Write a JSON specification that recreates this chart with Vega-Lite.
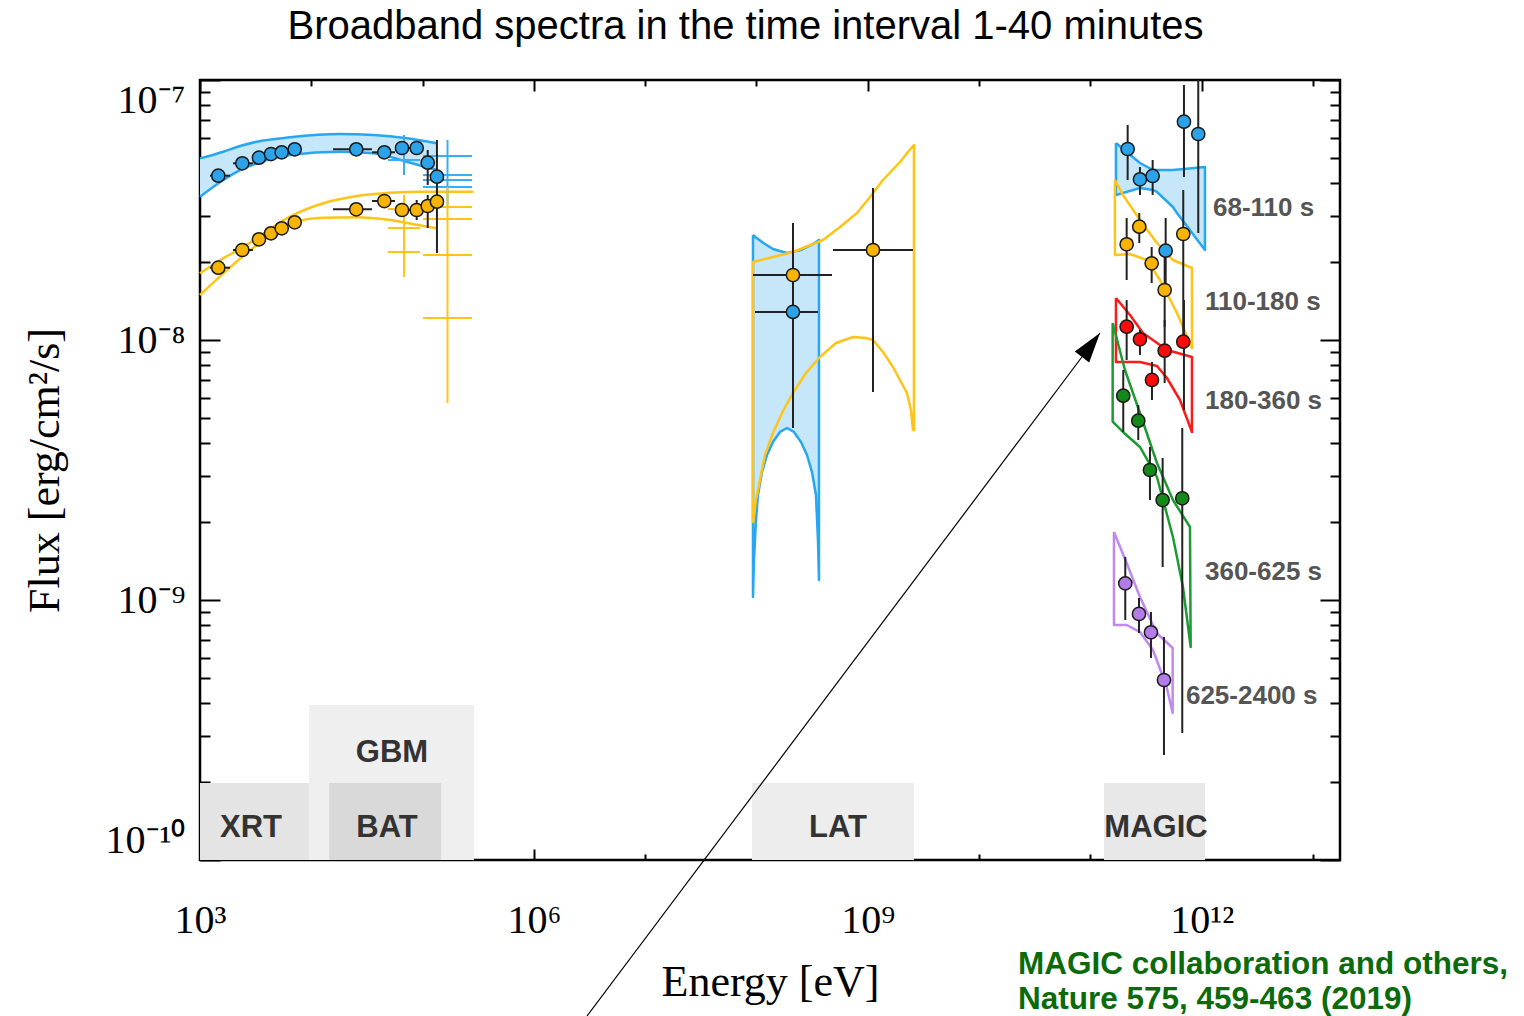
{
"$schema": "https://vega.github.io/schema/vega-lite/v6.json",
"width": 1140, "height": 780,
"autosize": "none",
"padding": {"left": 200, "top": 80, "right": 184, "bottom": 156},
"background": "white",
"config": {"view": {"stroke": "#000", "strokeWidth": 2.5}},
"datasets": {
"boxes": [
{"inst":"GBM","e1":9535,"e2":289600,"f1":1e-10,"f2":3.947e-10},
{"inst":"XRT","e1":1000,"e2":9535,"f1":1e-10,"f2":1.978e-10},
{"inst":"BAT","e1":14420,"e2":146300,"f1":1e-10,"f2":1.978e-10},
{"inst":"LAT","e1":9.112e7,"e2":2.6e9,"f1":1e-10,"f2":1.978e-10},
{"inst":"MAGIC","e1":1.325e11,"e2":1.071e12,"f1":1e-10,"f2":1.978e-10}],
"boxlabels": [
{"inst":"XRT","e":2872,"f":1.328e-10},{"inst":"GBM","e":53090,"f":2.579e-10},{"inst":"BAT","e":47870,"f":1.328e-10},{"inst":"LAT","e":5.398e8,"f":1.328e-10},{"inst":"MAGIC","e":3.886e11,"f":1.328e-10}],
"bands": [
{"band":"xg","e":1000,"lo":3.558e-8,"hi":4.997e-8},{"band":"xg","e":1619,"lo":4.125e-8,"hi":5.3e-8},{"band":"xg","e":2288,"lo":4.506e-8,"hi":5.575e-8},{"band":"xg","e":3232,"lo":4.782e-8,"hi":5.79e-8},{"band":"xg","e":6436,"lo":5.146e-8,"hi":6.02e-8},{"band":"xg","e":18110,"lo":5.3e-8,"hi":6.199e-8},{"band":"xg","e":36060,"lo":5.225e-8,"hi":6.143e-8},{"band":"xg","e":71960,"lo":4.851e-8,"hi":5.968e-8},{"band":"xg","e":133900,"lo":4.506e-8,"hi":5.708e-8},
{"band":"lat","e":9.303e7,"lo":1.027e-9,"hi":2.534e-8},{"band":"lat","e":9.495e7,"lo":1.424e-9,"hi":2.512e-8},{"band":"lat","e":9.897e7,"lo":2.031e-9,"hi":2.479e-8},{"band":"lat","e":1.031e8,"lo":2.534e-9,"hi":2.446e-8},{"band":"lat","e":1.121e8,"lo":3.106e-9,"hi":2.382e-8},{"band":"lat","e":1.243e8,"lo":3.612e-9,"hi":2.298e-8},{"band":"lat","e":1.406e8,"lo":4.053e-9,"hi":2.239e-8},{"band":"lat","e":1.626e8,"lo":4.429e-9,"hi":2.19e-8},{"band":"lat","e":1.879e8,"lo":4.586e-9,"hi":2.161e-8},{"band":"lat","e":2.173e8,"lo":4.429e-9,"hi":2.18e-8},{"band":"lat","e":2.511e8,"lo":4.053e-9,"hi":2.219e-8},{"band":"lat","e":2.843e8,"lo":3.612e-9,"hi":2.278e-8},{"band":"lat","e":3.153e8,"lo":3.106e-9,"hi":2.329e-8},{"band":"lat","e":3.424e8,"lo":2.534e-9,"hi":2.382e-8},{"band":"lat","e":3.569e8,"lo":1.701e-9,"hi":2.404e-8},{"band":"lat","e":3.644e8,"lo":1.194e-9,"hi":2.424e-8},
{"band":"magic","e":1.698e11,"lo":3.612e-8,"hi":5.724e-8},{"band":"magic","e":2.79e11,"lo":3.842e-8,"hi":4.795e-8},{"band":"magic","e":3.651e11,"lo":3.775e-8,"hi":4.506e-8},{"band":"magic","e":3.966e11,"lo":3.709e-8,"hi":4.506e-8},{"band":"magic","e":5.522e11,"lo":3.247e-8,"hi":4.506e-8},{"band":"magic","e":5.999e11,"lo":3.079e-8,"hi":4.527e-8},{"band":"magic","e":1.071e12,"lo":2.219e-8,"hi":4.629e-8}],
"smooth": [
{"curve":"c1","series":"68-110 s","e":1000,"f":4.997e-8},{"curve":"c1","series":"68-110 s","e":1619,"f":5.3e-8},{"curve":"c1","series":"68-110 s","e":2288,"f":5.575e-8},{"curve":"c1","series":"68-110 s","e":3232,"f":5.79e-8},{"curve":"c1","series":"68-110 s","e":6436,"f":6.02e-8},{"curve":"c1","series":"68-110 s","e":18110,"f":6.199e-8},{"curve":"c1","series":"68-110 s","e":36060,"f":6.143e-8},{"curve":"c1","series":"68-110 s","e":71960,"f":5.968e-8},{"curve":"c1","series":"68-110 s","e":133900,"f":5.708e-8},
{"curve":"c2","series":"68-110 s","e":1000,"f":3.558e-8},{"curve":"c2","series":"68-110 s","e":1619,"f":4.125e-8},{"curve":"c2","series":"68-110 s","e":2288,"f":4.506e-8},{"curve":"c2","series":"68-110 s","e":3232,"f":4.782e-8},{"curve":"c2","series":"68-110 s","e":6436,"f":5.146e-8},{"curve":"c2","series":"68-110 s","e":18110,"f":5.3e-8},{"curve":"c2","series":"68-110 s","e":36060,"f":5.225e-8},{"curve":"c2","series":"68-110 s","e":71960,"f":4.851e-8},{"curve":"c2","series":"68-110 s","e":133900,"f":4.506e-8},
{"curve":"c3","series":"110-180 s","e":1000,"f":1.805e-8},{"curve":"c3","series":"110-180 s","e":1619,"f":2.062e-8},{"curve":"c3","series":"110-180 s","e":2399,"f":2.265e-8},{"curve":"c3","series":"110-180 s","e":3388,"f":2.496e-8},{"curve":"c3","series":"110-180 s","e":4557,"f":2.728e-8},{"curve":"c3","series":"110-180 s","e":6436,"f":2.98e-8},{"curve":"c3","series":"110-180 s","e":12820,"f":3.356e-8},{"curve":"c3","series":"110-180 s","e":25580,"f":3.579e-8},{"curve":"c3","series":"110-180 s","e":50950,"f":3.686e-8},{"curve":"c3","series":"110-180 s","e":101500,"f":3.719e-8},{"curve":"c3","series":"110-180 s","e":285500,"f":3.719e-8},
{"curve":"c4","series":"110-180 s","e":1000,"f":1.49e-8},{"curve":"c4","series":"110-180 s","e":1619,"f":1.805e-8},{"curve":"c4","series":"110-180 s","e":2399,"f":2.091e-8},{"curve":"c4","series":"110-180 s","e":3388,"f":2.354e-8},{"curve":"c4","series":"110-180 s","e":4557,"f":2.609e-8},{"curve":"c4","series":"110-180 s","e":6436,"f":2.81e-8},{"curve":"c4","series":"110-180 s","e":12820,"f":2.954e-8},{"curve":"c4","series":"110-180 s","e":25580,"f":2.964e-8},{"curve":"c4","series":"110-180 s","e":50950,"f":2.894e-8},{"curve":"c4","series":"110-180 s","e":101500,"f":2.745e-8},{"curve":"c4","series":"110-180 s","e":133900,"f":2.689e-8}],
"poly": [
{"curve":"lb","series":"68-110 s","ord":1,"e":9.303e7,"f":2.534e-8},{"curve":"lb","series":"68-110 s","ord":2,"e":9.897e7,"f":2.479e-8},{"curve":"lb","series":"68-110 s","ord":3,"e":1.121e8,"f":2.382e-8},{"curve":"lb","series":"68-110 s","ord":4,"e":1.406e8,"f":2.239e-8},{"curve":"lb","series":"68-110 s","ord":5,"e":1.879e8,"f":2.161e-8},{"curve":"lb","series":"68-110 s","ord":6,"e":2.511e8,"f":2.219e-8},{"curve":"lb","series":"68-110 s","ord":7,"e":3.153e8,"f":2.329e-8},{"curve":"lb","series":"68-110 s","ord":8,"e":3.644e8,"f":2.424e-8},{"curve":"lb","series":"68-110 s","ord":9,"e":3.644e8,"f":1.194e-9},{"curve":"lb","series":"68-110 s","ord":10,"e":3.569e8,"f":1.701e-9},{"curve":"lb","series":"68-110 s","ord":11,"e":3.424e8,"f":2.534e-9},{"curve":"lb","series":"68-110 s","ord":12,"e":3.153e8,"f":3.106e-9},{"curve":"lb","series":"68-110 s","ord":13,"e":2.843e8,"f":3.612e-9},{"curve":"lb","series":"68-110 s","ord":14,"e":2.511e8,"f":4.053e-9},{"curve":"lb","series":"68-110 s","ord":15,"e":2.173e8,"f":4.429e-9},{"curve":"lb","series":"68-110 s","ord":16,"e":1.879e8,"f":4.586e-9},{"curve":"lb","series":"68-110 s","ord":17,"e":1.626e8,"f":4.429e-9},{"curve":"lb","series":"68-110 s","ord":18,"e":1.406e8,"f":4.053e-9},{"curve":"lb","series":"68-110 s","ord":19,"e":1.243e8,"f":3.612e-9},{"curve":"lb","series":"68-110 s","ord":20,"e":1.121e8,"f":3.106e-9},{"curve":"lb","series":"68-110 s","ord":21,"e":1.031e8,"f":2.534e-9},{"curve":"lb","series":"68-110 s","ord":22,"e":9.897e7,"f":2.031e-9},{"curve":"lb","series":"68-110 s","ord":23,"e":9.495e7,"f":1.424e-9},{"curve":"lb","series":"68-110 s","ord":24,"e":9.303e7,"f":1.027e-9},{"curve":"lb","series":"68-110 s","ord":25,"e":9.303e7,"f":2.534e-8},
{"curve":"lo","series":"110-180 s","ord":1,"e":9.303e7,"f":1.978e-9},{"curve":"lo","series":"110-180 s","ord":2,"e":9.303e7,"f":1.995e-8},{"curve":"lo","series":"110-180 s","ord":3,"e":1.406e8,"f":2.085e-8},{"curve":"lo","series":"110-180 s","ord":4,"e":2.128e8,"f":2.18e-8},{"curve":"lo","series":"110-180 s","ord":5,"e":3.958e8,"f":2.424e-8},{"curve":"lo","series":"110-180 s","ord":6,"e":5.627e8,"f":2.72e-8},{"curve":"lo","series":"110-180 s","ord":7,"e":7.998e8,"f":3.079e-8},{"curve":"lo","series":"110-180 s","ord":8,"e":1.047e9,"f":3.548e-8},{"curve":"lo","series":"110-180 s","ord":9,"e":1.369e9,"f":4.125e-8},{"curve":"lo","series":"110-180 s","ord":10,"e":1.948e9,"f":4.838e-8},{"curve":"lo","series":"110-180 s","ord":11,"e":2.297e9,"f":5.286e-8},{"curve":"lo","series":"110-180 s","ord":12,"e":2.6e9,"f":5.623e-8},{"curve":"lo","series":"110-180 s","ord":13,"e":2.6e9,"f":4.506e-9},{"curve":"lo","series":"110-180 s","ord":14,"e":2.547e9,"f":4.506e-9},{"curve":"lo","series":"110-180 s","ord":15,"e":2.444e9,"f":5.38e-9},{"curve":"lo","series":"110-180 s","ord":16,"e":2.25e9,"f":6.254e-9},{"curve":"lo","series":"110-180 s","ord":17,"e":1.988e9,"f":6.893e-9},{"curve":"lo","series":"110-180 s","ord":18,"e":1.684e9,"f":7.876e-9},{"curve":"lo","series":"110-180 s","ord":19,"e":1.369e9,"f":8.991e-9},{"curve":"lo","series":"110-180 s","ord":20,"e":1.114e9,"f":1.0e-8},{"curve":"lo","series":"110-180 s","ord":21,"e":9.634e8,"f":1.018e-8},{"curve":"lo","series":"110-180 s","ord":22,"e":7.362e8,"f":1.027e-8},{"curve":"lo","series":"110-180 s","ord":23,"e":5.18e8,"f":9.739e-9},{"curve":"lo","series":"110-180 s","ord":24,"e":3.72e8,"f":8.602e-9},{"curve":"lo","series":"110-180 s","ord":25,"e":2.783e8,"f":7.468e-9},{"curve":"lo","series":"110-180 s","ord":26,"e":2.128e8,"f":6.254e-9},{"curve":"lo","series":"110-180 s","ord":27,"e":1.73e8,"f":5.332e-9},{"curve":"lo","series":"110-180 s","ord":28,"e":1.406e8,"f":4.388e-9},{"curve":"lo","series":"110-180 s","ord":29,"e":1.192e8,"f":3.612e-9},{"curve":"lo","series":"110-180 s","ord":30,"e":1.075e8,"f":2.894e-9},{"curve":"lo","series":"110-180 s","ord":31,"e":9.897e7,"f":2.424e-9},{"curve":"lo","series":"110-180 s","ord":32,"e":9.303e7,"f":1.978e-9},
{"curve":"mb","series":"68-110 s","ord":1,"e":1.698e11,"f":5.724e-8},{"curve":"mb","series":"68-110 s","ord":2,"e":2.79e11,"f":4.795e-8},{"curve":"mb","series":"68-110 s","ord":3,"e":3.651e11,"f":4.506e-8},{"curve":"mb","series":"68-110 s","ord":4,"e":5.522e11,"f":4.506e-8},{"curve":"mb","series":"68-110 s","ord":5,"e":1.071e12,"f":4.629e-8},{"curve":"mb","series":"68-110 s","ord":6,"e":1.071e12,"f":2.219e-8},{"curve":"mb","series":"68-110 s","ord":7,"e":5.999e11,"f":3.079e-8},{"curve":"mb","series":"68-110 s","ord":8,"e":5.522e11,"f":3.247e-8},{"curve":"mb","series":"68-110 s","ord":9,"e":3.966e11,"f":3.709e-8},{"curve":"mb","series":"68-110 s","ord":10,"e":3.651e11,"f":3.775e-8},{"curve":"mb","series":"68-110 s","ord":11,"e":2.79e11,"f":3.842e-8},{"curve":"mb","series":"68-110 s","ord":12,"e":1.698e11,"f":3.612e-8},{"curve":"mb","series":"68-110 s","ord":13,"e":1.698e11,"f":5.724e-8},
{"curve":"mo","series":"110-180 s","ord":1,"e":1.663e11,"f":4.125e-8},{"curve":"mo","series":"110-180 s","ord":2,"e":1.963e11,"f":3.612e-8},{"curve":"mo","series":"110-180 s","ord":3,"e":2.79e11,"f":2.894e-8},{"curve":"mo","series":"110-180 s","ord":4,"e":3.966e11,"f":2.361e-8},{"curve":"mo","series":"110-180 s","ord":5,"e":5.522e11,"f":2.031e-8},{"curve":"mo","series":"110-180 s","ord":6,"e":8.182e11,"f":1.892e-8},{"curve":"mo","series":"110-180 s","ord":7,"e":8.182e11,"f":9.316e-9},{"curve":"mo","series":"110-180 s","ord":8,"e":5.999e11,"f":1.27e-8},{"curve":"mo","series":"110-180 s","ord":9,"e":4.22e11,"f":1.701e-8},{"curve":"mo","series":"110-180 s","ord":10,"e":3.225e11,"f":2.031e-8},{"curve":"mo","series":"110-180 s","ord":11,"e":2.269e11,"f":2.142e-8},{"curve":"mo","series":"110-180 s","ord":12,"e":1.663e11,"f":2.123e-8},{"curve":"mo","series":"110-180 s","ord":13,"e":1.663e11,"f":4.125e-8},
{"curve":"mr","series":"180-360 s","ord":1,"e":1.698e11,"f":1.45e-8},{"curve":"mr","series":"180-360 s","ord":2,"e":2.269e11,"f":1.248e-8},{"curve":"mr","series":"180-360 s","ord":3,"e":2.969e11,"f":1.064e-8},{"curve":"mr","series":"180-360 s","ord":4,"e":4.878e11,"f":9.153e-9},{"curve":"mr","series":"180-360 s","ord":5,"e":8.182e11,"f":8.602e-9},{"curve":"mr","series":"180-360 s","ord":6,"e":8.182e11,"f":4.429e-9},{"curve":"mr","series":"180-360 s","ord":7,"e":6.383e11,"f":5.878e-9},{"curve":"mr","series":"180-360 s","ord":8,"e":4.878e11,"f":7.142e-9},{"curve":"mr","series":"180-360 s","ord":9,"e":3.966e11,"f":7.943e-9},{"curve":"mr","series":"180-360 s","ord":10,"e":2.79e11,"f":8.232e-9},{"curve":"mr","series":"180-360 s","ord":11,"e":1.698e11,"f":8.232e-9},{"curve":"mr","series":"180-360 s","ord":12,"e":1.698e11,"f":1.45e-8},
{"curve":"mg","series":"360-625 s","ord":1,"e":1.586e11,"f":1.162e-8},{"curve":"mg","series":"360-625 s","ord":2,"e":2.046e11,"f":7.668e-9},{"curve":"mg","series":"360-625 s","ord":3,"e":2.79e11,"f":5.239e-9},{"curve":"mg","series":"360-625 s","ord":4,"e":3.966e11,"f":3.364e-9},{"curve":"mg","series":"360-625 s","ord":5,"e":5.522e11,"f":2.424e-9},{"curve":"mg","series":"360-625 s","ord":6,"e":7.852e11,"f":1.909e-9},{"curve":"mg","series":"360-625 s","ord":7,"e":7.967e11,"f":6.596e-10},{"curve":"mg","series":"360-625 s","ord":8,"e":6.792e11,"f":1.122e-9},{"curve":"mg","series":"360-625 s","ord":9,"e":5.522e11,"f":1.747e-9},{"curve":"mg","series":"360-625 s","ord":10,"e":3.966e11,"f":2.972e-9},{"curve":"mg","series":"360-625 s","ord":11,"e":2.79e11,"f":3.877e-9},{"curve":"mg","series":"360-625 s","ord":12,"e":1.963e11,"f":4.429e-9},{"curve":"mg","series":"360-625 s","ord":13,"e":1.586e11,"f":4.851e-9},{"curve":"mg","series":"360-625 s","ord":14,"e":1.586e11,"f":1.162e-8},
{"curve":"mp","series":"625-2400 s","ord":1,"e":1.63e11,"f":1.826e-9},{"curve":"mp","series":"625-2400 s","ord":2,"e":2.119e11,"f":1.388e-9},{"curve":"mp","series":"625-2400 s","ord":3,"e":2.79e11,"f":1.027e-9},{"curve":"mp","series":"625-2400 s","ord":4,"e":3.942e11,"f":7.468e-10},{"curve":"mp","series":"625-2400 s","ord":5,"e":5.488e11,"f":6.538e-10},{"curve":"mp","series":"625-2400 s","ord":6,"e":5.488e11,"f":3.677e-10},{"curve":"mp","series":"625-2400 s","ord":7,"e":4.848e11,"f":4.629e-10},{"curve":"mp","series":"625-2400 s","ord":8,"e":3.651e11,"f":6.423e-10},{"curve":"mp","series":"625-2400 s","ord":9,"e":2.79e11,"f":7.533e-10},{"curve":"mp","series":"625-2400 s","ord":10,"e":2.119e11,"f":8.013e-10},{"curve":"mp","series":"625-2400 s","ord":11,"e":1.63e11,"f":8.013e-10},{"curve":"mp","series":"625-2400 s","ord":12,"e":1.63e11,"f":1.826e-9}],
"crosses": [
{"series":"68-110 s","e1":48870,"e2":94830,"f1":4.924e-8,"f2":4.924e-8},
{"series":"68-110 s","e1":68080,"e2":68080,"f1":6.143e-8,"f2":4.312e-8},
{"series":"68-110 s","e1":100800,"e2":277900,"f1":5.102e-8,"f2":5.102e-8},
{"series":"68-110 s","e1":100800,"e2":277900,"f1":4.312e-8,"f2":4.312e-8},
{"series":"68-110 s","e1":100800,"e2":277900,"f1":4.125e-8,"f2":4.125e-8},
{"series":"68-110 s","e1":100800,"e2":277900,"f1":3.877e-8,"f2":3.877e-8},
{"series":"68-110 s","e1":167400,"e2":167400,"f1":5.878e-8,"f2":3.247e-8},
{"series":"110-180 s","e1":68080,"e2":68080,"f1":3.612e-8,"f2":1.747e-8},
{"series":"110-180 s","e1":48870,"e2":94830,"f1":3.19e-8,"f2":3.19e-8},
{"series":"110-180 s","e1":48870,"e2":94830,"f1":2.696e-8,"f2":2.696e-8},
{"series":"110-180 s","e1":48870,"e2":94830,"f1":2.18e-8,"f2":2.18e-8},
{"series":"110-180 s","e1":167400,"e2":167400,"f1":3.877e-8,"f2":5.724e-9},
{"series":"110-180 s","e1":100800,"e2":277900,"f1":3.247e-8,"f2":3.247e-8},
{"series":"110-180 s","e1":100800,"e2":277900,"f1":2.92e-8,"f2":2.92e-8},
{"series":"110-180 s","e1":100800,"e2":277900,"f1":2.123e-8,"f2":2.123e-8},
{"series":"110-180 s","e1":100800,"e2":277900,"f1":1.215e-8,"f2":1.215e-8}],
"errs": [
{"e1":1230,"e2":1860,"f1":4.285e-8,"f2":4.285e-8},{"e1":1980,"e2":2992,"f1":4.782e-8,"f2":4.782e-8},
{"e1":15670,"e2":35090,"f1":5.414e-8,"f2":5.414e-8},{"e1":35090,"e2":56490,"f1":5.272e-8,"f2":5.272e-8},{"e1":56490,"e2":77090,"f1":5.476e-8,"f2":5.476e-8},{"e1":77090,"e2":100800,"f1":5.476e-8,"f2":5.476e-8},{"e1":100800,"e2":121500,"f1":4.808e-8,"f2":4.808e-8},{"e1":121500,"e2":149300,"f1":4.246e-8,"f2":4.246e-8},
{"e1":111200,"e2":111200,"f1":5.38e-8,"f2":3.947e-8},{"e1":134600,"e2":134600,"f1":5.878e-8,"f2":3.455e-8},
{"e1":1230,"e2":1860,"f1":1.897e-8,"f2":1.897e-8},{"e1":1980,"e2":2992,"f1":2.219e-8,"f2":2.219e-8},
{"e1":15670,"e2":35090,"f1":3.182e-8,"f2":3.182e-8},{"e1":35090,"e2":56490,"f1":3.424e-8,"f2":3.424e-8},{"e1":56490,"e2":77090,"f1":3.162e-8,"f2":3.162e-8},{"e1":77090,"e2":100800,"f1":3.162e-8,"f2":3.162e-8},{"e1":100800,"e2":121500,"f1":3.276e-8,"f2":3.276e-8},{"e1":121500,"e2":149300,"f1":3.404e-8,"f2":3.404e-8},
{"e1":111200,"e2":111200,"f1":3.612e-8,"f2":2.696e-8},{"e1":134600,"e2":134600,"f1":3.775e-8,"f2":2.161e-8},{"e1":88510,"e2":88510,"f1":3.455e-8,"f2":2.894e-8},
{"e1":9.303e7,"e2":4.769e8,"f1":1.778e-8,"f2":1.778e-8},{"e1":2.128e8,"e2":2.128e8,"f1":2.818e-8,"f2":7.468e-9},
{"e1":9.694e7,"e2":3.569e8,"f1":1.282e-8,"f2":1.282e-8},{"e1":2.128e8,"e2":2.128e8,"f1":2.031e-8,"f2":4.586e-9},
{"e1":4.868e8,"e2":2.547e9,"f1":2.219e-8,"f2":2.219e-8},{"e1":1.114e9,"e2":1.114e9,"f1":3.842e-8,"f2":6.31e-9},
{"e1":2.163e11,"e2":2.163e11,"f1":6.713e-8,"f2":4.125e-8},{"e1":2.79e11,"e2":2.79e11,"f1":4.629e-8,"f2":3.612e-8},{"e1":3.628e11,"e2":3.628e11,"f1":4.924e-8,"f2":3.612e-8},{"e1":6.934e11,"e2":6.934e11,"f1":9.567e-8,"f2":4.236e-8},{"e1":9.322e11,"e2":9.322e11,"f1":1e-7,"f2":2.579e-8},{"e1":4.749e11,"e2":4.749e11,"f1":2.946e-8,"f2":1.656e-8},
{"e1":2.119e11,"e2":2.119e11,"f1":2.946e-8,"f2":1.701e-8},{"e1":2.751e11,"e2":2.751e11,"f1":3.079e-8,"f2":2.361e-8},{"e1":3.555e11,"e2":3.555e11,"f1":2.278e-8,"f2":1.656e-8},{"e1":4.652e11,"e2":4.652e11,"f1":2.123e-8,"f2":1.122e-8},{"e1":6.835e11,"e2":6.835e11,"f1":3.775e-8,"f2":9.567e-9},
{"e1":2.119e11,"e2":2.119e11,"f1":1.424e-8,"f2":8.377e-9},{"e1":2.79e11,"e2":2.79e11,"f1":1.093e-8,"f2":8.756e-9},{"e1":4.652e11,"e2":4.652e11,"f1":1.194e-8,"f2":6.833e-9},{"e1":6.934e11,"e2":6.934e11,"f1":1.424e-8,"f2":5.38e-9},{"e1":3.577e11,"e2":3.577e11,"f1":8.232e-9,"f2":5.878e-9},
{"e1":1.975e11,"e2":1.975e11,"f1":7.668e-9,"f2":4.429e-9},{"e1":2.694e11,"e2":2.694e11,"f1":5.623e-9,"f2":4.125e-9},{"e1":3.432e11,"e2":3.432e11,"f1":3.877e-9,"f2":2.424e-9},{"e1":4.462e11,"e2":4.462e11,"f1":3.517e-9,"f2":1.339e-9},{"e1":6.695e11,"e2":6.695e11,"f1":4.586e-9,"f2":3.079e-10},
{"e1":2.059e11,"e2":2.059e11,"f1":1.464e-9,"f2":8.377e-10},{"e1":2.734e11,"e2":2.734e11,"f1":1.018e-9,"f2":7.468e-10},{"e1":3.504e11,"e2":3.504e11,"f1":8.991e-10,"f2":5.983e-10},{"e1":4.585e11,"e2":4.585e11,"f1":7.206e-10,"f2":2.534e-10}],
"points": [
{"series":"68-110 s","e":1460,"f":4.285e-8},{"series":"68-110 s","e":2399,"f":4.782e-8},{"series":"68-110 s","e":3388,"f":5.025e-8},{"series":"68-110 s","e":4345,"f":5.192e-8},{"series":"68-110 s","e":5420,"f":5.272e-8},{"series":"68-110 s","e":7096,"f":5.414e-8},{"series":"68-110 s","e":25360,"f":5.414e-8},{"series":"68-110 s","e":45290,"f":5.272e-8},{"series":"68-110 s","e":65310,"f":5.476e-8},{"series":"68-110 s","e":88510,"f":5.476e-8},{"series":"68-110 s","e":111200,"f":4.808e-8},{"series":"68-110 s","e":134600,"f":4.246e-8},
{"series":"110-180 s","e":1460,"f":1.897e-8},{"series":"110-180 s","e":2399,"f":2.219e-8},{"series":"110-180 s","e":3388,"f":2.44e-8},{"series":"110-180 s","e":4345,"f":2.573e-8},{"series":"110-180 s","e":5420,"f":2.689e-8},{"series":"110-180 s","e":7096,"f":2.836e-8},{"series":"110-180 s","e":25360,"f":3.182e-8},{"series":"110-180 s","e":45290,"f":3.424e-8},{"series":"110-180 s","e":65310,"f":3.162e-8},{"series":"110-180 s","e":88510,"f":3.162e-8},{"series":"110-180 s","e":111200,"f":3.276e-8},{"series":"110-180 s","e":134600,"f":3.404e-8},
{"series":"110-180 s","e":2.128e8,"f":1.778e-8},{"series":"68-110 s","e":2.128e8,"f":1.282e-8},{"series":"110-180 s","e":1.114e9,"f":2.219e-8},
{"series":"68-110 s","e":2.163e11,"f":5.428e-8},{"series":"68-110 s","e":2.79e11,"f":4.15e-8},{"series":"68-110 s","e":3.628e11,"f":4.274e-8},{"series":"68-110 s","e":6.934e11,"f":6.912e-8},{"series":"68-110 s","e":9.322e11,"f":6.199e-8},{"series":"68-110 s","e":4.749e11,"f":2.205e-8},
{"series":"110-180 s","e":2.119e11,"f":2.334e-8},{"series":"110-180 s","e":2.751e11,"f":2.728e-8},{"series":"110-180 s","e":3.555e11,"f":1.972e-8},{"series":"110-180 s","e":4.652e11,"f":1.557e-8},{"series":"110-180 s","e":6.835e11,"f":2.557e-8},
{"series":"180-360 s","e":2.119e11,"f":1.125e-8},{"series":"180-360 s","e":2.79e11,"f":1.006e-8},{"series":"180-360 s","e":4.652e11,"f":9.095e-9},{"series":"180-360 s","e":6.835e11,"f":9.851e-9},{"series":"180-360 s","e":3.577e11,"f":7.018e-9},
{"series":"360-625 s","e":1.975e11,"f":6.105e-9},{"series":"360-625 s","e":2.694e11,"f":4.893e-9},{"series":"360-625 s","e":3.432e11,"f":3.162e-9},{"series":"360-625 s","e":4.462e11,"f":2.424e-9},{"series":"360-625 s","e":6.695e11,"f":2.462e-9},
{"series":"625-2400 s","e":2.059e11,"f":1.159e-9},{"series":"625-2400 s","e":2.734e11,"f":8.835e-10},{"series":"625-2400 s","e":3.504e11,"f":7.514e-10},{"series":"625-2400 s","e":4.585e11,"f":4.924e-10}],
"timelabels": [
{"label":"68-110 s","e":1.264e12,"f":3.219e-8},{"label":"110-180 s","e":1.071e12,"f":1.4e-8},{"label":"180-360 s","e":1.071e12,"f":5.827e-9},{"label":"360-625 s","e":1.071e12,"f":1.282e-9},{"label":"625-2400 s","e":7.226e11,"f":4.274e-10}],
"notes": [
{"text":"MAGIC collaboration and others,","e":2.236e10,"f":3.947e-11},{"text":"Nature 575, 459-463 (2019)","e":2.236e10,"f":2.894e-11}],
"arrow": [{"ord":1,"e":3.0e6,"f":2.512e-11},{"ord":2,"e":1.219e11,"f":1.064e-8}],
"arrowhead": [{"e":1.013e11,"f":9.567e-9}]
},
"layer": [
{"data": {"name": "boxes"},
 "mark": {"type": "rect"},
 "encoding": {
  "x": {"field": "e1", "type": "quantitative", "scale": {"type": "log", "domain": [1000, 1.75e13], "nice": false},
   "axis": {"orient": "bottom", "values": [1e3,1e4,1e5,1e6,1e7,1e8,1e9,1e10,1e11,1e12,1e13],
    "labelExpr": "datum.value==1000?'10³':datum.value==1e6?'10⁶':datum.value==1e9?'10⁹':datum.value==1e12?'10¹²':''",
    "labelFont": "Liberation Serif", "labelFontSize": 40, "labelColor": "#000", "labelFlush": false, "labelOverlap": false, "labelBaseline": "alphabetic", "labelPadding": 83,
    "domain": false, "grid": false, "tickColor": "#000", "tickWidth": 2,
    "tickSize": {"condition": {"test": "datum.value==1000||datum.value==1e6||datum.value==1e9||datum.value==1e12", "value": -11}, "value": -6},
    "title": "Energy [eV]", "titleFont": "Liberation Serif", "titleFontSize": 44, "titleFontWeight": "normal", "titleColor": "#000", "titleX": 570, "titleY": 122, "titleBaseline": "middle", "titleAlign": "center"}},
  "x2": {"field": "e2"},
  "y": {"field": "f1", "type": "quantitative", "scale": {"type": "log", "domain": [1e-10, 1e-7], "nice": false},
   "axis": {"orient": "left", "values": [1e-10,2e-10,3e-10,4e-10,5e-10,6e-10,7e-10,8e-10,9e-10,1e-9,2e-9,3e-9,4e-9,5e-9,6e-9,7e-9,8e-9,9e-9,1e-8,2e-8,3e-8,4e-8,5e-8,6e-8,7e-8,8e-8,9e-8,1e-7],
    "labelExpr": "datum.value==1e-7?'10⁻⁷':datum.value==1e-8?'10⁻⁸':datum.value==1e-9?'10⁻⁹':datum.value==1e-10?'10⁻¹⁰':''",
    "labelFont": "Liberation Serif", "labelFontSize": 40, "labelColor": "#000", "labelFlush": true, "labelOverlap": false, "labelPadding": 35,
    "domain": false, "grid": false, "tickColor": "#000", "tickWidth": 2,
    "tickSize": {"condition": {"test": "datum.value==1e-7||datum.value==1e-8||datum.value==1e-9||datum.value==1e-10", "value": -20}, "value": -10},
    "title": "Flux [erg/cm²/s]", "titleFont": "Liberation Serif", "titleFontSize": 44, "titleFontWeight": "normal", "titleColor": "#000", "titleX": -155, "titleY": 390, "titleAngle": 270, "titleBaseline": "middle", "titleAlign": "center"}},
  "y2": {"field": "f2"},
  "color": {"field": "inst", "type": "nominal", "scale": {"domain": ["GBM","XRT","BAT","LAT","MAGIC"], "range": ["#efefef","#e4e4e4","#d9d9d9","#ededed","#e8e8e8"]}, "legend": null}
 }},
{"data": {"name": "boxlabels"},
 "mark": {"type": "text", "font": "Liberation Sans", "fontSize": 31, "fontWeight": "bold", "color": "#333", "align": "center", "baseline": "middle"},
 "encoding": {
  "x": {"field": "e", "type": "quantitative", "scale": {"type": "log", "domain": [1000, 1.75e13], "nice": false},
   "axis": {"orient": "top", "values": [1e3,1e4,1e5,1e6,1e7,1e8,1e9,1e10,1e11,1e12,1e13], "labels": false, "domain": false, "grid": false, "tickColor": "#000", "tickWidth": 2,
    "tickSize": {"condition": {"test": "datum.value==1000||datum.value==1e6||datum.value==1e9||datum.value==1e12", "value": -11}, "value": -6},
    "title": "Broadband spectra in the time interval 1-40 minutes", "titleFont": "Liberation Sans", "titleFontSize": 40, "titleFontWeight": "normal", "titleColor": "#000", "titleX": 545, "titleY": -42, "titleBaseline": "alphabetic", "titleAlign": "center", "titleAngle": 0}},
  "y": {"field": "f", "type": "quantitative", "scale": {"type": "log", "domain": [1e-10, 1e-7], "nice": false},
   "axis": {"orient": "right", "values": [1e-10,2e-10,3e-10,4e-10,5e-10,6e-10,7e-10,8e-10,9e-10,1e-9,2e-9,3e-9,4e-9,5e-9,6e-9,7e-9,8e-9,9e-9,1e-8,2e-8,3e-8,4e-8,5e-8,6e-8,7e-8,8e-8,9e-8,1e-7], "labels": false, "domain": false, "grid": false, "tickColor": "#000", "tickWidth": 2,
    "tickSize": {"condition": {"test": "datum.value==1e-7||datum.value==1e-8||datum.value==1e-9||datum.value==1e-10", "value": -20}, "value": -10}, "title": null}},
  "text": {"field": "inst"}
 }},
{"data": {"name": "bands"},
 "mark": {"type": "area", "interpolate": "monotone", "color": "#c6e6fa", "opacity": 1},
 "encoding": {
  "x": {"field": "e", "type": "quantitative", "scale": {"type": "log", "domain": [1000, 1.75e13], "nice": false}, "axis": null},
  "y": {"field": "lo", "type": "quantitative", "scale": {"type": "log", "domain": [1e-10, 1e-7], "nice": false}, "axis": null},
  "y2": {"field": "hi"},
  "detail": {"field": "band"}
 }},
{"data": {"name": "smooth"},
 "mark": {"type": "line", "interpolate": "monotone", "strokeWidth": 2.5},
 "encoding": {
  "x": {"field": "e", "type": "quantitative", "scale": {"type": "log", "domain": [1000, 1.75e13], "nice": false}, "axis": null},
  "y": {"field": "f", "type": "quantitative", "scale": {"type": "log", "domain": [1e-10, 1e-7], "nice": false}, "axis": null},
  "detail": {"field": "curve"},
  "color": {"field": "series", "type": "nominal", "scale": {"domain": ["68-110 s","110-180 s","180-360 s","360-625 s","625-2400 s"], "range": ["#27a6f3","#ffc416","#ff1a1a","#1e9a33","#c089f1"]}, "legend": null}
 }},
{"data": {"name": "poly"},
 "mark": {"type": "line", "strokeWidth": 2.5, "strokeJoin": "round"},
 "encoding": {
  "x": {"field": "e", "type": "quantitative", "scale": {"type": "log", "domain": [1000, 1.75e13], "nice": false}, "axis": null},
  "y": {"field": "f", "type": "quantitative", "scale": {"type": "log", "domain": [1e-10, 1e-7], "nice": false}, "axis": null},
  "detail": {"field": "curve"},
  "order": {"field": "ord", "type": "quantitative"},
  "color": {"field": "series", "type": "nominal", "scale": {"domain": ["68-110 s","110-180 s","180-360 s","360-625 s","625-2400 s"], "range": ["#27a6f3","#ffc416","#ff1a1a","#1e9a33","#c089f1"]}, "legend": null}
 }},
{"data": {"name": "crosses"},
 "mark": {"type": "rule", "strokeWidth": 2},
 "encoding": {
  "x": {"field": "e1", "type": "quantitative", "scale": {"type": "log", "domain": [1000, 1.75e13], "nice": false}, "axis": null},
  "x2": {"field": "e2"},
  "y": {"field": "f1", "type": "quantitative", "scale": {"type": "log", "domain": [1e-10, 1e-7], "nice": false}, "axis": null},
  "y2": {"field": "f2"},
  "color": {"field": "series", "type": "nominal", "scale": {"domain": ["68-110 s","110-180 s","180-360 s","360-625 s","625-2400 s"], "range": ["#3aaef5","#ffc416","#ff1a1a","#1e9a33","#c089f1"]}, "legend": null}
 }},
{"data": {"name": "errs"},
 "mark": {"type": "rule", "strokeWidth": 2, "color": "#222"},
 "encoding": {
  "x": {"field": "e1", "type": "quantitative", "scale": {"type": "log", "domain": [1000, 1.75e13], "nice": false}, "axis": null},
  "x2": {"field": "e2"},
  "y": {"field": "f1", "type": "quantitative", "scale": {"type": "log", "domain": [1e-10, 1e-7], "nice": false}, "axis": null},
  "y2": {"field": "f2"}
 }},
{"data": {"name": "points"},
 "mark": {"type": "point", "shape": "circle", "filled": true, "size": 175, "stroke": "#1a1a1a", "strokeWidth": 1.5, "opacity": 1},
 "encoding": {
  "x": {"field": "e", "type": "quantitative", "scale": {"type": "log", "domain": [1000, 1.75e13], "nice": false}, "axis": null},
  "y": {"field": "f", "type": "quantitative", "scale": {"type": "log", "domain": [1e-10, 1e-7], "nice": false}, "axis": null},
  "color": {"field": "series", "type": "nominal", "scale": {"domain": ["68-110 s","110-180 s","180-360 s","360-625 s","625-2400 s"], "range": ["#2ca3e8","#f8b400","#ff0a0a","#14891a","#b37ce8"]}, "legend": null}
 }},
{"data": {"name": "timelabels"},
 "mark": {"type": "text", "font": "Liberation Sans", "fontSize": 26, "fontWeight": "bold", "color": "#555", "align": "left", "baseline": "middle"},
 "encoding": {
  "x": {"field": "e", "type": "quantitative", "scale": {"type": "log", "domain": [1000, 1.75e13], "nice": false}, "axis": null},
  "y": {"field": "f", "type": "quantitative", "scale": {"type": "log", "domain": [1e-10, 1e-7], "nice": false}, "axis": null},
  "text": {"field": "label"}
 }},
{"data": {"name": "notes"},
 "mark": {"type": "text", "font": "Liberation Sans", "fontSize": 31.5, "fontWeight": "bold", "color": "#0b6b0b", "align": "left", "baseline": "middle"},
 "encoding": {
  "x": {"field": "e", "type": "quantitative", "scale": {"type": "log", "domain": [1000, 1.75e13], "nice": false}, "axis": null},
  "y": {"field": "f", "type": "quantitative", "scale": {"type": "log", "domain": [1e-10, 1e-7], "nice": false}, "axis": null},
  "text": {"field": "text"}
 }},
{"data": {"name": "arrow"},
 "mark": {"type": "line", "strokeWidth": 1.2, "color": "#000"},
 "encoding": {
  "x": {"field": "e", "type": "quantitative", "scale": {"type": "log", "domain": [1000, 1.75e13], "nice": false}, "axis": null},
  "y": {"field": "f", "type": "quantitative", "scale": {"type": "log", "domain": [1e-10, 1e-7], "nice": false}, "axis": null},
  "order": {"field": "ord", "type": "quantitative"}
 }},
{"data": {"name": "arrowhead"},
 "mark": {"type": "point", "shape": "M0,-1L0.6,1L-0.6,1Z", "size": 900, "angle": 36.9, "filled": true, "color": "#000", "opacity": 1},
 "encoding": {
  "x": {"field": "e", "type": "quantitative", "scale": {"type": "log", "domain": [1000, 1.75e13], "nice": false}, "axis": null},
  "y": {"field": "f", "type": "quantitative", "scale": {"type": "log", "domain": [1e-10, 1e-7], "nice": false}, "axis": null}
 }}
],
"resolve": {"axis": {"x": "independent", "y": "independent"}, "scale": {"color": "independent"}}
}
